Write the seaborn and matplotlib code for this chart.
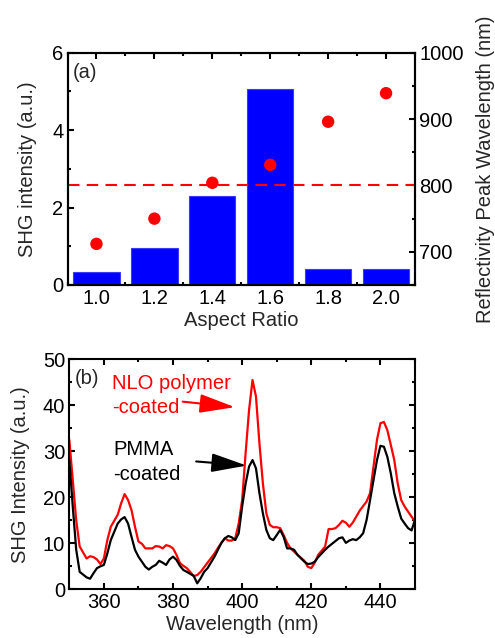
import numpy as np
import pandas as pd
import matplotlib
matplotlib.use("Agg")
import matplotlib.pyplot as plt
from matplotlib.ticker import MultipleLocator
import seaborn as sns

# ---------------- data ----------------
aspect_ratio = [1.0, 1.2, 1.4, 1.6, 1.8, 2.0]
shg_intensity = [0.34, 0.95, 2.31, 5.06, 0.41, 0.42]
peak_wavelength = [712, 750, 804, 831, 896, 939]
resonance_line = 800

wl = [350, 351, 352, 353, 355, 356, 357, 358, 359, 360, 361, 362, 364, 365, 366,
      367, 368, 369, 370, 371, 372, 373, 374, 375, 376, 377, 378, 379, 380, 381,
      382, 383, 384, 386, 387, 388, 389, 390, 392, 393, 394, 395, 396, 397, 398,
      399, 400, 401, 402, 403, 404, 405, 406, 407, 408, 409, 410, 411, 412, 413,
      414, 415, 416, 418, 419, 420, 421, 422, 424, 425, 426, 427, 428, 429, 430,
      431, 432, 433, 434, 435, 436, 437, 438, 439, 440, 441, 442, 443, 444, 445,
      446, 447, 448, 449, 450]
nlo_coated = [32.5, 23.8, 15.0, 9.3, 6.7, 7.2, 7.0, 6.5, 5.5, 6.7, 10.7, 13.6, 16.2,
              18.7, 20.7, 19.4, 17.2, 13.6, 10.4, 9.9, 8.9, 8.9, 8.9, 9.4, 9.3, 8.9,
              9.6, 9.4, 8.9, 7.5, 5.7, 5.1, 4.6, 2.9, 3.1, 3.8, 4.8, 5.8, 7.8, 9.0,
              10.1, 11.1, 10.6, 10.6, 11.1, 14.3, 19.4, 29.6, 39.0, 45.5, 41.9, 31.7,
              23.0, 16.5, 14.0, 13.5, 13.5, 13.3, 11.8, 10.1, 8.9, 8.2, 7.5, 6.2, 4.9,
              4.6, 5.8, 7.5, 9.3, 13.1, 13.1, 13.3, 14.0, 14.9, 14.5, 13.6, 14.5, 15.8,
              17.1, 18.1, 19.1, 20.9, 26.7, 32.5, 36.1, 36.4, 34.6, 31.4, 28.1, 23.0,
              19.4, 18.0, 16.9, 15.8, 14.7]
pmma_coated = [28.1, 18.0, 8.6, 3.8, 2.6, 2.3, 3.5, 4.6, 5.0, 5.3, 7.8, 10.7, 14.3,
               15.2, 15.7, 14.3, 11.4, 8.6, 7.1, 6.0, 4.9, 4.3, 4.9, 5.3, 6.2, 5.8,
               5.3, 6.5, 7.1, 6.4, 5.1, 4.2, 3.8, 2.9, 1.3, 2.4, 3.8, 4.6, 7.1, 8.6,
               10.1, 11.1, 11.6, 11.3, 10.7, 12.2, 18.0, 23.0, 26.7, 28.1, 26.3, 20.9,
               16.5, 12.9, 11.1, 10.7, 11.8, 12.9, 11.4, 8.9, 8.9, 8.6, 7.5, 6.0, 5.5,
               5.6, 6.0, 7.0, 8.6, 9.3, 9.9, 10.5, 11.1, 11.3, 10.1, 10.6, 10.9, 10.7,
               11.3, 12.2, 15.1, 19.4, 23.8, 28.1, 31.2, 31.0, 28.8, 25.2, 20.9, 18.0,
               15.4, 14.3, 13.3, 12.8, 15.1]

aspect_ticks = [1.0, 1.2, 1.4, 1.6, 1.8, 2.0]
shg_ticks = [0, 2, 4, 6]
peak_ticks = [700, 800, 900, 1000]
wl_ticks = [360, 380, 400, 420, 440]
int_ticks = [0, 10, 20, 30, 40, 50]

FS = 14.5

# ---------------- style ----------------
sns.set_style("ticks")
plt.rcParams["font.family"] = ["Liberation Sans", "DejaVu Sans"]
plt.rcParams.update({
    "font.size": FS,
    "axes.linewidth": 1.5,
    "xtick.direction": "in",
    "ytick.direction": "in",
    "xtick.major.size": 4.5,
    "ytick.major.size": 4.5,
    "xtick.minor.size": 2.5,
    "ytick.minor.size": 2.5,
    "xtick.major.width": 1.5,
    "ytick.major.width": 1.5,
    "xtick.minor.width": 1.5,
    "ytick.minor.width": 1.5,
    "xtick.major.pad": 3,
    "ytick.major.pad": 3,
    "xtick.color": "black",
    "ytick.color": "black",
    "axes.edgecolor": "black",
})

fig = plt.figure(figsize=(4.95, 6.38), dpi=100)
ax1 = fig.add_axes([0.1364, 0.5533, 0.702, 0.3641])
ax2 = fig.add_axes([0.140, 0.0763, 0.6984, 0.3605])

# ---------------- panel (a) ----------------
df_a = pd.DataFrame({"ar": aspect_ratio, "shg": shg_intensity, "peak": peak_wavelength})
sns.barplot(data=df_a, x="ar", y="shg", native_scale=True, width=0.8,
            color="#0000ff", saturation=1, edgecolor="#3a3aff", linewidth=0.8,
            ax=ax1, zorder=1)
ax1.set_xlim(0.9, 2.1)
ax1.set_ylim(0, 6)
ax1.set_xticks(aspect_ticks)
ax1.set_xticklabels([f"{v:.1f}" for v in aspect_ticks])
ax1.set_yticks(shg_ticks)
ax1.xaxis.set_minor_locator(MultipleLocator(0.1))
ax1.yaxis.set_minor_locator(MultipleLocator(1))
ax1.tick_params(which="both", top=True, labelsize=FS)
ax1.set_xlabel("Aspect Ratio", fontsize=FS, labelpad=2)
ax1.set_ylabel("SHG intensity (a.u.)", fontsize=FS, labelpad=11)
ax1.text(0.918, 5.5, "(a)", fontsize=FS, va="center", ha="left")

ax1r = ax1.twinx()
sns.scatterplot(data=df_a, x="ar", y="peak", color="#ff0000", s=80,
                edgecolor="none", ax=ax1r, zorder=3)
ax1r.axhline(resonance_line, color="#ff0000", lw=1.5, ls=(0, (5.5, 3.5)))
ax1r.set_ylim(650, 1000)
ax1r.set_yticks(peak_ticks)
ax1r.yaxis.set_minor_locator(MultipleLocator(50))
ax1r.tick_params(which="both", right=True, labelsize=FS)
ax1r.set_ylabel("Reflectivity Peak Wavelength (nm)", fontsize=FS, labelpad=9)
ax1r.set_xlabel("")
ax1r.set_xlim(0.9, 2.1)
for sp in ax1r.spines.values():
    sp.set_linewidth(1.5)
for ax in (ax1, ax1r):
    ax.tick_params(which="both", direction="in")

# ---------------- panel (b) ----------------
df_b = pd.DataFrame({"wl": wl, "NLO": nlo_coated, "PMMA": pmma_coated})
sns.lineplot(data=df_b, x="wl", y="NLO", color="#ff0000", lw=1.6, ax=ax2)
sns.lineplot(data=df_b, x="wl", y="PMMA", color="black", lw=1.6, ax=ax2)
ax2.set_xlim(350, 450)
ax2.set_ylim(0, 50)
ax2.set_xticks(wl_ticks)
ax2.set_yticks(int_ticks)
ax2.xaxis.set_minor_locator(MultipleLocator(10))
ax2.yaxis.set_minor_locator(MultipleLocator(5))
ax2.tick_params(which="both", top=True, right=True, direction="in", labelsize=FS)
ax2.set_xlabel("Wavelength (nm)", fontsize=FS, labelpad=2)
ax2.set_ylabel("SHG Intensity (a.u.)", fontsize=FS, labelpad=9)

ax2.text(351.6, 45.9, "(b)", fontsize=FS, va="center", ha="left")
ax2.text(362.4, 44.8, "NLO polymer", color="#ff0000", fontsize=FS, va="center", ha="left")
ax2.text(362.4, 39.6, "-coated", color="#ff0000", fontsize=FS, va="center", ha="left")
ax2.text(362.7, 30.4, "PMMA", color="black", fontsize=FS, va="center", ha="left")
ax2.text(362.7, 25.0, "-coated", color="black", fontsize=FS, va="center", ha="left")
ax2.annotate("", xy=(397.9, 39.6), xytext=(382.8, 40.8),
             arrowprops=dict(arrowstyle="-|>,head_length=1.5,head_width=0.4",
                             color="#ff0000", lw=1.5, shrinkA=0, shrinkB=0))
ax2.annotate("", xy=(401.3, 26.9), xytext=(386.7, 27.8),
             arrowprops=dict(arrowstyle="-|>,head_length=1.5,head_width=0.4",
                             color="black", lw=1.5, shrinkA=0, shrinkB=0))

fig.savefig("out.png", dpi=100)
